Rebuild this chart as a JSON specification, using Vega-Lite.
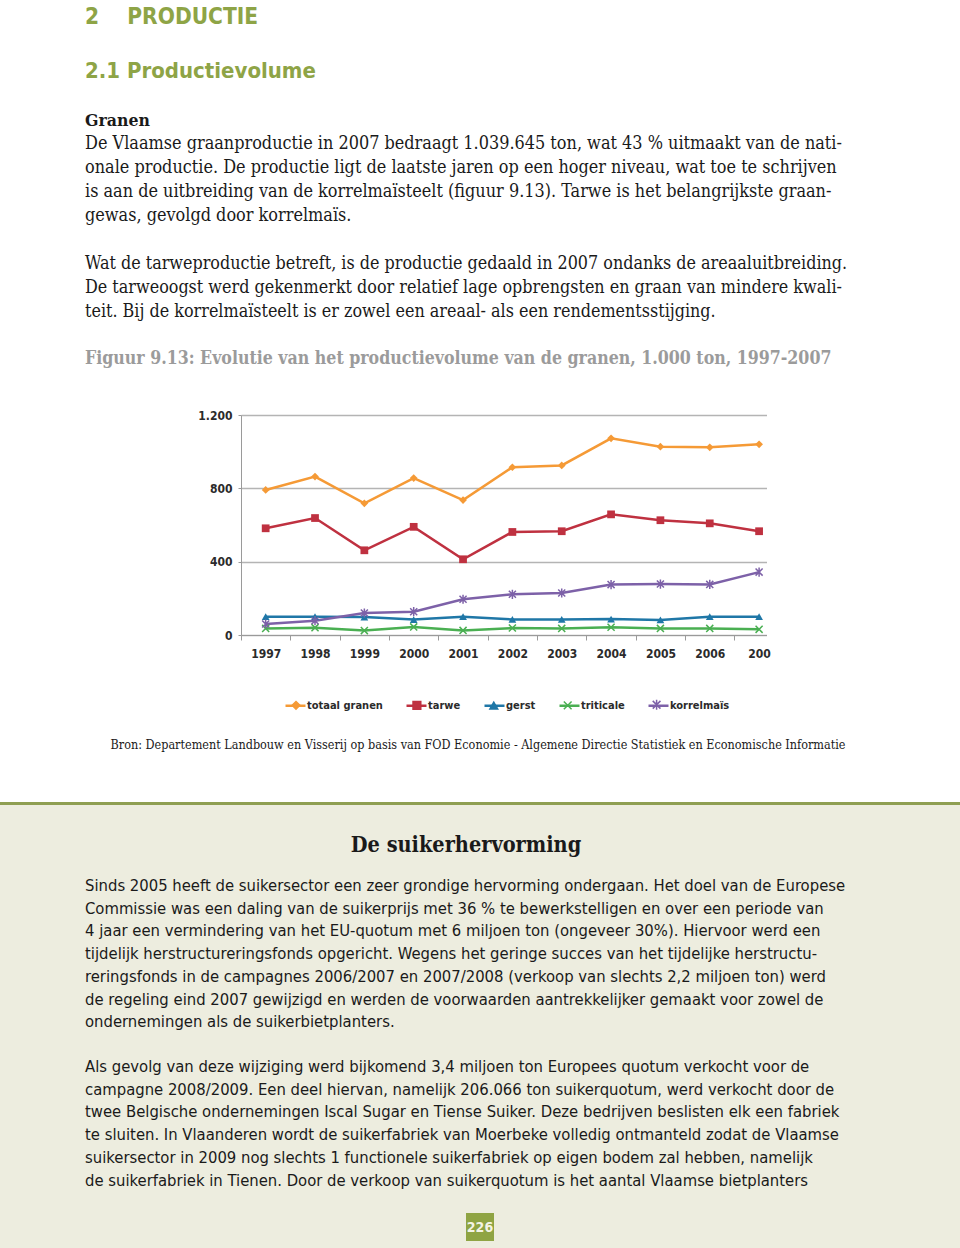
{
  "$schema": "https://vega.github.io/schema/vega-lite/v6.json",
  "padding": 0,
  "background": "#ffffff",
  "bounds": "flush",
  "spacing": 0,
  "config": {"view": {"stroke": null}},
  "vconcat": [
    {
      "width": 960,
      "height": 415,
      "layer": [
        {
          "data": {"values": [{"lines": ["2\u00a0\u00a0\u00a0\u00a0PRODUCTIE"]}]},
          "mark": {"type": "text", "x": 85, "y": 24, "align": "left", "baseline": "alphabetic", "font": "DejaVu Sans Condensed", "fontWeight": "bold", "fontSize": 22.5, "color": "#8ea446"},
          "encoding": {"text": {"field": "lines", "type": "nominal"}}
        },
        {
          "data": {"values": [{"lines": ["2.1 Productievolume"]}]},
          "mark": {"type": "text", "x": 85, "y": 78, "align": "left", "baseline": "alphabetic", "font": "DejaVu Sans Condensed", "fontWeight": "bold", "fontSize": 22, "color": "#8ea446"},
          "encoding": {"text": {"field": "lines", "type": "nominal"}}
        },
        {
          "data": {"values": [{"lines": ["Granen"]}]},
          "mark": {"type": "text", "x": 85, "y": 126, "align": "left", "baseline": "alphabetic", "font": "DejaVu Serif Condensed", "fontWeight": "bold", "fontSize": 17.5, "color": "#1a1a1a"},
          "encoding": {"text": {"field": "lines", "type": "nominal"}}
        },
        {
          "data": {"values": [{"lines": [
            "De Vlaamse graanproductie in 2007 bedraagt 1.039.645 ton, wat 43 % uitmaakt van de nati-",
            "onale productie. De productie ligt de laatste jaren op een hoger niveau, wat toe te schrijven",
            "is aan de uitbreiding van de korrelmaïsteelt (figuur 9.13). Tarwe is het belangrijkste graan-",
            "gewas, gevolgd door korrelmaïs."
          ]}]},
          "mark": {"type": "text", "x": 85, "y": 149, "align": "left", "baseline": "alphabetic", "font": "DejaVu Serif Condensed", "fontSize": 17.9, "lineHeight": 24, "color": "#1a1a1a"},
          "encoding": {"text": {"field": "lines", "type": "nominal"}}
        },
        {
          "data": {"values": [{"lines": [
            "Wat de tarweproductie betreft, is de productie gedaald in 2007 ondanks de areaaluitbreiding.",
            "De tarweoogst werd gekenmerkt door relatief lage opbrengsten en graan van mindere kwali-",
            "teit. Bij de korrelmaïsteelt is er zowel een areaal- als een rendementsstijging."
          ]}]},
          "mark": {"type": "text", "x": 85, "y": 269, "align": "left", "baseline": "alphabetic", "font": "DejaVu Serif Condensed", "fontSize": 17.8, "lineHeight": 24, "color": "#1a1a1a"},
          "encoding": {"text": {"field": "lines", "type": "nominal"}}
        },
        {
          "data": {"values": [{"lines": ["Figuur 9.13: Evolutie van het productievolume van de granen, 1.000 ton, 1997-2007"]}]},
          "mark": {"type": "text", "x": 85, "y": 364, "align": "left", "baseline": "alphabetic", "font": "DejaVu Serif Condensed", "fontWeight": "bold", "fontSize": 17.6, "color": "#9b9b9b"},
          "encoding": {"text": {"field": "lines", "type": "nominal"}}
        }
      ]
    },
    {
      "width": 767,
      "height": 220,
      "data": {"values": [
        {"jaar": 1997, "gewas": "totaal granen", "waarde": 791},
        {"jaar": 1998, "gewas": "totaal granen", "waarde": 864},
        {"jaar": 1999, "gewas": "totaal granen", "waarde": 718},
        {"jaar": 2000, "gewas": "totaal granen", "waarde": 856},
        {"jaar": 2001, "gewas": "totaal granen", "waarde": 736},
        {"jaar": 2002, "gewas": "totaal granen", "waarde": 915},
        {"jaar": 2003, "gewas": "totaal granen", "waarde": 925},
        {"jaar": 2004, "gewas": "totaal granen", "waarde": 1073},
        {"jaar": 2005, "gewas": "totaal granen", "waarde": 1027},
        {"jaar": 2006, "gewas": "totaal granen", "waarde": 1024},
        {"jaar": 2007, "gewas": "totaal granen", "waarde": 1040},
        {"jaar": 1997, "gewas": "tarwe", "waarde": 582},
        {"jaar": 1998, "gewas": "tarwe", "waarde": 638},
        {"jaar": 1999, "gewas": "tarwe", "waarde": 462},
        {"jaar": 2000, "gewas": "tarwe", "waarde": 590},
        {"jaar": 2001, "gewas": "tarwe", "waarde": 413},
        {"jaar": 2002, "gewas": "tarwe", "waarde": 562},
        {"jaar": 2003, "gewas": "tarwe", "waarde": 566},
        {"jaar": 2004, "gewas": "tarwe", "waarde": 658},
        {"jaar": 2005, "gewas": "tarwe", "waarde": 626},
        {"jaar": 2006, "gewas": "tarwe", "waarde": 609},
        {"jaar": 2007, "gewas": "tarwe", "waarde": 566},
        {"jaar": 1997, "gewas": "gerst", "waarde": 100},
        {"jaar": 1998, "gewas": "gerst", "waarde": 100},
        {"jaar": 1999, "gewas": "gerst", "waarde": 98},
        {"jaar": 2000, "gewas": "gerst", "waarde": 84},
        {"jaar": 2001, "gewas": "gerst", "waarde": 100},
        {"jaar": 2002, "gewas": "gerst", "waarde": 85},
        {"jaar": 2003, "gewas": "gerst", "waarde": 85},
        {"jaar": 2004, "gewas": "gerst", "waarde": 87},
        {"jaar": 2005, "gewas": "gerst", "waarde": 82},
        {"jaar": 2006, "gewas": "gerst", "waarde": 100},
        {"jaar": 2007, "gewas": "gerst", "waarde": 100},
        {"jaar": 1997, "gewas": "triticale", "waarde": 36},
        {"jaar": 1998, "gewas": "triticale", "waarde": 40},
        {"jaar": 1999, "gewas": "triticale", "waarde": 24},
        {"jaar": 2000, "gewas": "triticale", "waarde": 44},
        {"jaar": 2001, "gewas": "triticale", "waarde": 25},
        {"jaar": 2002, "gewas": "triticale", "waarde": 38},
        {"jaar": 2003, "gewas": "triticale", "waarde": 36},
        {"jaar": 2004, "gewas": "triticale", "waarde": 42},
        {"jaar": 2005, "gewas": "triticale", "waarde": 36},
        {"jaar": 2006, "gewas": "triticale", "waarde": 36},
        {"jaar": 2007, "gewas": "triticale", "waarde": 31},
        {"jaar": 1997, "gewas": "korrelmaïs", "waarde": 60},
        {"jaar": 1998, "gewas": "korrelmaïs", "waarde": 78},
        {"jaar": 1999, "gewas": "korrelmaïs", "waarde": 120},
        {"jaar": 2000, "gewas": "korrelmaïs", "waarde": 127},
        {"jaar": 2001, "gewas": "korrelmaïs", "waarde": 195},
        {"jaar": 2002, "gewas": "korrelmaïs", "waarde": 222},
        {"jaar": 2003, "gewas": "korrelmaïs", "waarde": 229},
        {"jaar": 2004, "gewas": "korrelmaïs", "waarde": 275},
        {"jaar": 2005, "gewas": "korrelmaïs", "waarde": 278},
        {"jaar": 2006, "gewas": "korrelmaïs", "waarde": 276},
        {"jaar": 2007, "gewas": "korrelmaïs", "waarde": 343}
      ]},
      "encoding": {
        "x": {
          "field": "jaar", "type": "quantitative",
          "scale": {"domain": [1996.5, 2007.15], "range": [241, 766.5], "nice": false, "zero": false},
          "axis": {
            "values": [1997, 1998, 1999, 2000, 2001, 2002, 2003, 2004, 2005, 2006, 2007],
            "format": "d",
            "labelExpr": "datum.value == 2007 ? '200' : datum.label",
            "tickOffset": -24.65,
            "labelOffset": 24.65,
            "grid": false,
            "title": null,
            "domainColor": "#9a9a9a",
            "tickColor": "#9a9a9a",
            "tickSize": 5,
            "labelPadding": 8,
            "labelFlush": false,
            "labelOverlap": false,
            "labelFont": "DejaVu Sans Condensed",
            "labelFontWeight": "bold",
            "labelFontSize": 12,
            "labelColor": "#2b2b2b"
          }
        },
        "y": {
          "field": "waarde", "type": "quantitative",
          "scale": {"domain": [0, 1200], "nice": false},
          "axis": {
            "values": [0, 400, 800, 1200],
            "labelExpr": "replace(format(datum.value, ','), ',', '.')",
            "offset": -241,
            "title": null,
            "domainColor": "#9a9a9a",
            "tickColor": "#9a9a9a",
            "tickSize": 3,
            "gridColor": "#b4b4b4",
            "gridWidth": 1.5,
            "labelPadding": 6,
            "labelFont": "DejaVu Sans Condensed",
            "labelFontWeight": "bold",
            "labelFontSize": 12,
            "labelColor": "#2b2b2b"
          }
        }
      },
      "layer": [
        {
          "mark": {"type": "line", "strokeWidth": 2.5},
          "encoding": {
            "stroke": {
              "field": "gewas", "type": "nominal",
              "scale": {
                "domain": ["korrelmaïs", "triticale", "gerst", "tarwe", "totaal granen"],
                "range": ["#7d61a8", "#4aaf52", "#1f77a7", "#bf3140", "#f59a36"]
              },
              "legend": {
                "orient": "none",
                "legendX": 284,
                "legendY": 694,
                "direction": "horizontal",
                "title": null,
                "values": ["totaal granen", "tarwe", "gerst", "triticale", "korrelmaïs"],
                "symbolType": "stroke",
                "symbolSize": 400,
                "symbolStrokeWidth": 2.5,
                "labelFont": "DejaVu Sans Condensed",
                "labelFontWeight": "bold",
                "labelFontSize": 11,
                "labelColor": "#2b2b2b",
                "labelOffset": 0,
                "columnPadding": 18
              }
            }
          }
        },
        {
          "transform": [{"filter": "indexof(['totaal granen', 'tarwe', 'gerst'], datum.gewas) >= 0"}],
          "mark": {"type": "point", "filled": true, "opacity": 1, "size": 60},
          "encoding": {
            "color": {
              "field": "gewas", "type": "nominal",
              "scale": {
                "domain": ["totaal granen", "tarwe", "gerst", "triticale", "korrelmaïs"],
                "range": ["#f59a36", "#bf3140", "#1f77a7", "#4aaf52", "#7d61a8"]
              },
              "legend": {
                "orient": "none",
                "legendX": 290.5,
                "legendY": 699,
                "direction": "horizontal",
                "title": null,
                "symbolSize": 60,
                "symbolStrokeWidth": 1.5,
                "labelFont": "DejaVu Sans Condensed",
                "labelFontWeight": "bold",
                "labelFontSize": 11,
                "labelColor": "#2b2b2b",
                "labelOpacity": 0,
                "labelOffset": 6.3,
                "columnPadding": 24.9
              }
            },
            "shape": {
              "field": "gewas", "type": "nominal",
              "scale": {
                "domain": ["totaal granen", "tarwe", "gerst", "triticale", "korrelmaïs"],
                "range": ["diamond", "square", "triangle-up", "M-1,-1L1,1M-1,1L1,-1", "M-1,-1L1,1M-1,1L1,-1M0,-1.3L0,1.3"]
              },
              "legend": null
            }
          }
        },
        {
          "transform": [{"filter": "indexof(['triticale', 'korrelmaïs'], datum.gewas) >= 0"}],
          "mark": {"type": "point", "filled": false, "opacity": 1, "size": 50, "strokeWidth": 1.5},
          "encoding": {
            "color": {
              "field": "gewas", "type": "nominal",
              "scale": {
                "domain": ["totaal granen", "tarwe", "gerst", "triticale", "korrelmaïs"],
                "range": ["#f59a36", "#bf3140", "#1f77a7", "#4aaf52", "#7d61a8"]
              }
            },
            "shape": {
              "field": "gewas", "type": "nominal",
              "scale": {
                "domain": ["totaal granen", "tarwe", "gerst", "triticale", "korrelmaïs"],
                "range": ["diamond", "square", "triangle-up", "M-1,-1L1,1M-1,1L1,-1", "M-1,-1L1,1M-1,1L1,-1M0,-1.3L0,1.3"]
              },
              "legend": null
            }
          }
        }
      ]
    },
    {
      "width": 960,
      "height": 167,
      "data": {"values": [{"lines": ["Bron: Departement Landbouw en Visserij op basis van FOD Economie - Algemene Directie Statistiek en Economische Informatie"]}]},
      "mark": {"type": "text", "x": 478, "y": 114, "align": "center", "baseline": "alphabetic", "font": "DejaVu Serif Condensed", "fontSize": 12.5, "color": "#1a1a1a"},
      "encoding": {"text": {"field": "lines", "type": "nominal"}}
    },
    {
      "width": 960,
      "height": 3,
      "view": {"fill": "#8f9f52", "stroke": null},
      "data": {"values": [{"lines": ""}]},
      "mark": {"type": "text"},
      "encoding": {"text": {"field": "lines", "type": "nominal"}}
    },
    {
      "width": 960,
      "height": 443,
      "view": {"fill": "#ededdf", "stroke": null},
      "layer": [
        {
          "data": {"values": [{"lines": ["De suikerhervorming"]}]},
          "mark": {"type": "text", "x": 466, "y": 47, "align": "center", "baseline": "alphabetic", "font": "DejaVu Serif Condensed", "fontWeight": "bold", "fontSize": 21.5, "color": "#1a1a1a"},
          "encoding": {"text": {"field": "lines", "type": "nominal"}}
        },
        {
          "data": {"values": [{"lines": [
            "Sinds 2005 heeft de suikersector een zeer grondige hervorming ondergaan. Het doel van de Europese",
            "Commissie was een daling van de suikerprijs met 36 % te bewerkstelligen en over een periode van",
            "4 jaar een vermindering van het EU-quotum met 6 miljoen ton (ongeveer 30%). Hiervoor werd een",
            "tijdelijk herstructureringsfonds opgericht. Wegens het geringe succes van het tijdelijke herstructu-",
            "reringsfonds in de campagnes 2006/2007 en 2007/2008 (verkoop van slechts 2,2 miljoen ton) werd",
            "de regeling eind 2007 gewijzigd en werden de voorwaarden aantrekkelijker gemaakt voor zowel de",
            "ondernemingen als de suikerbietplanters."
          ]}]},
          "mark": {"type": "text", "x": 85, "y": 86, "align": "left", "baseline": "alphabetic", "font": "DejaVu Sans Condensed", "fontSize": 16.5, "lineHeight": 22.7, "color": "#1a1a1a"},
          "encoding": {"text": {"field": "lines", "type": "nominal"}}
        },
        {
          "data": {"values": [{"lines": [
            "Als gevolg van deze wijziging werd bijkomend 3,4 miljoen ton Europees quotum verkocht voor de",
            "campagne 2008/2009. Een deel hiervan, namelijk 206.066 ton suikerquotum, werd verkocht door de",
            "twee Belgische ondernemingen Iscal Sugar en Tiense Suiker. Deze bedrijven beslisten elk een fabriek",
            "te sluiten. In Vlaanderen wordt de suikerfabriek van Moerbeke volledig ontmanteld zodat de Vlaamse",
            "suikersector in 2009 nog slechts 1 functionele suikerfabriek op eigen bodem zal hebben, namelijk",
            "de suikerfabriek in Tienen. Door de verkoop van suikerquotum is het aantal Vlaamse bietplanters"
          ]}]},
          "mark": {"type": "text", "x": 85, "y": 267, "align": "left", "baseline": "alphabetic", "font": "DejaVu Sans Condensed", "fontSize": 16.5, "lineHeight": 22.7, "color": "#1a1a1a"},
          "encoding": {"text": {"field": "lines", "type": "nominal"}}
        },
        {
          "data": {"values": [{"page": "226"}]},
          "mark": {"type": "point", "shape": "square", "x": 480, "y": 422, "size": 784, "filled": true, "color": "#8fa443", "opacity": 1},
          "encoding": {}
        },
        {
          "data": {"values": [{"page": "226"}]},
          "mark": {"type": "text", "x": 480, "y": 427, "align": "center", "baseline": "alphabetic", "font": "DejaVu Sans Condensed", "fontWeight": "bold", "fontSize": 14, "color": "#f4f4e6"},
          "encoding": {"text": {"field": "page", "type": "nominal"}}
        }
      ]
    }
  ]
}
